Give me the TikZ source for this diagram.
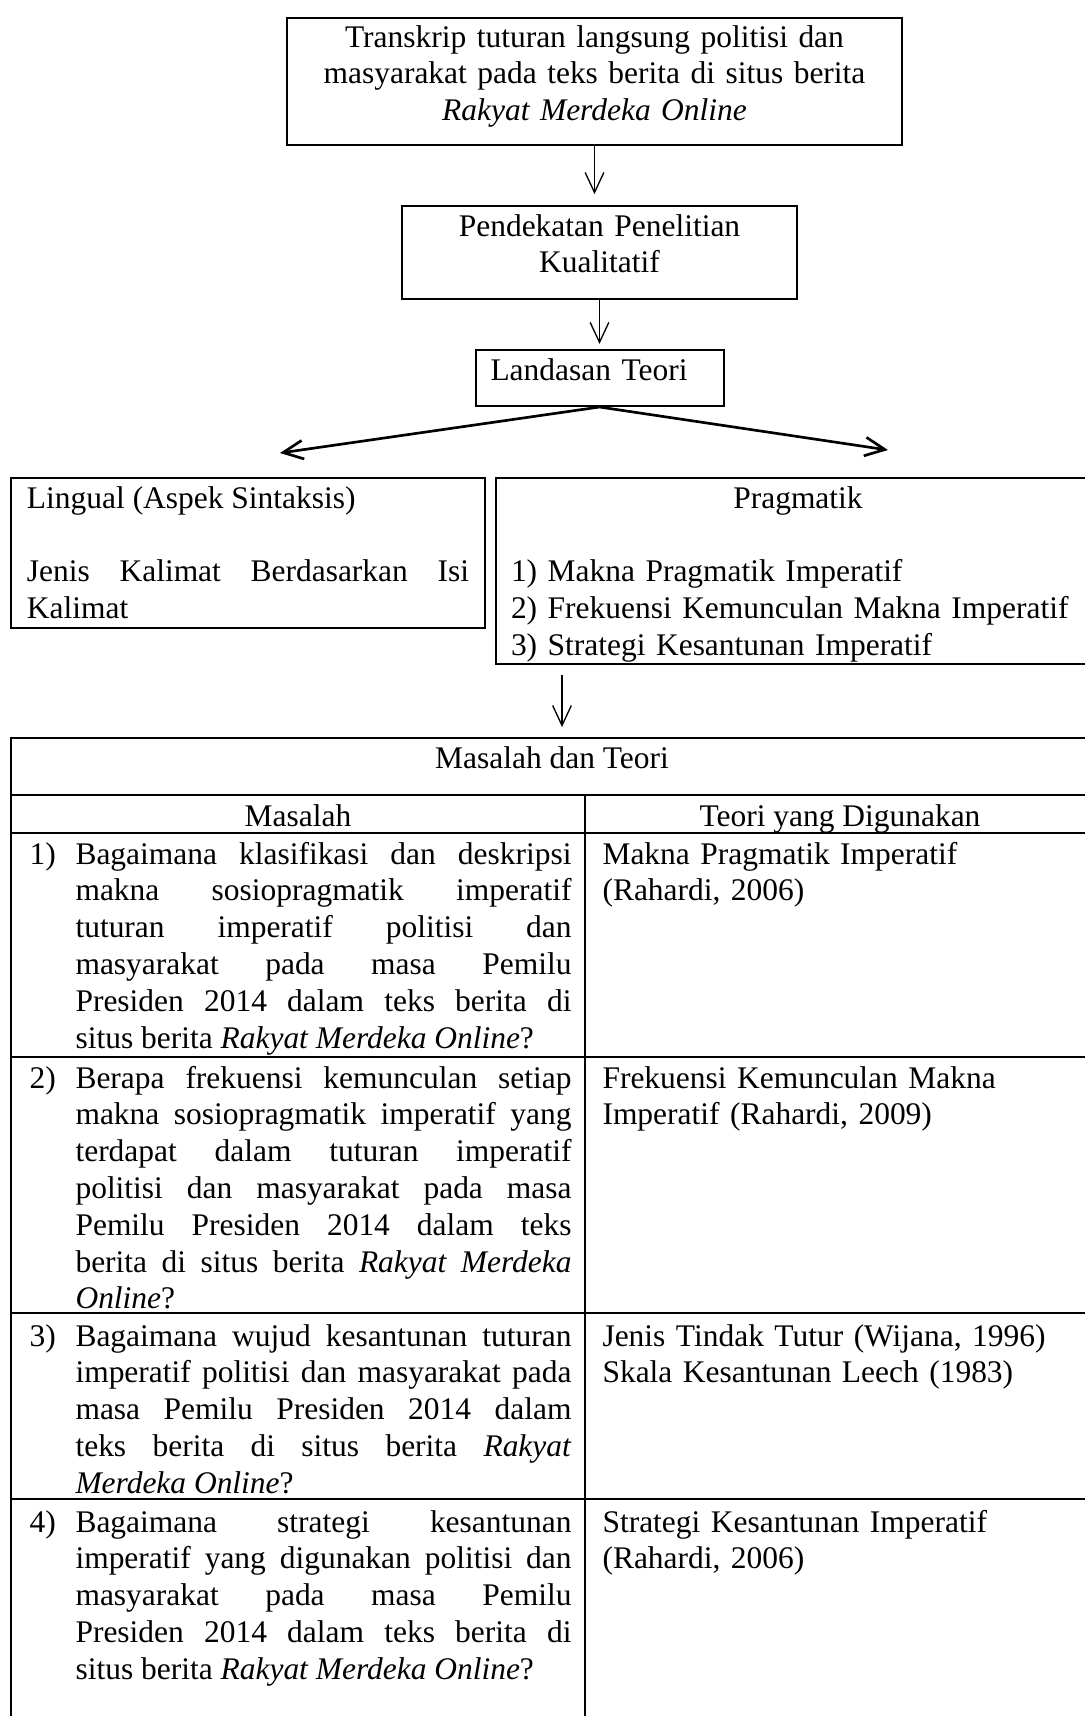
\documentclass[tikz,border=0pt]{standalone}
\usepackage{fontspec}
\setmainfont{Liberation Serif}
\usetikzlibrary{arrows.meta, positioning}
\setlength{\parindent}{0pt}
\hyphenpenalty=10000
\exhyphenpenalty=10000
\tolerance=10000

\begin{document}
\begin{tikzpicture}[
        x=0.375pt, y=-0.375pt,
        every node/.style={font=\fontsize{11.8}{13.8}\selectfont, inner sep=0pt},
        box/.style={draw, line width=0.75pt, text height=11.25pt},
        arr/.style={-{Straight Barb[length=7.5pt, width=7pt]}, line width=0.5pt},
        garis/.style={line width=0.75pt},
        soal/.style={anchor=base west, text width=186pt, align=justify},
        teks/.style={anchor=base west, text width=180pt, align=left}
        ]
        \useasboundingbox (0,0) rectangle (1085,1716);
        \clip (0,0) rectangle (1085,1716);
        \node[box, anchor=north west, text width=230.625pt, text height=10.875pt, text depth=36.75pt, align=center] (trans) at (286,17) {Transkrip tuturan langsung politisi dan\\masyarakat pada teks berita di situs berita\\\textit{Rakyat Merdeka Online}};
        \node[box, below=22.125pt of trans, xshift=1.875pt, text width=148.125pt, text depth=23.625pt, align=center] (kual) {Pendekatan Penelitian\\Kualitatif};
        \node[box, below=18.375pt of kual, inner xsep=5.625pt, text width=81.75pt, text depth=9.75pt, align=left] (teori) {Landasan Teori};
        \node[box, anchor=north west, inner xsep=6pt, text width=165.75pt, text depth=45pt, align=justify] (lingual) at (10,477) {Lingual (Aspek Sintaksis)\par\mbox{}\par Jenis Kalimat Berdasarkan Isi\linebreak Kalimat};
        \node[box, anchor=north west, inner xsep=5.625pt, text width=215.25pt, text depth=58.5pt, align=left] (prag) at (495,477) {\makebox[\linewidth]{Pragmatik}\\[13.8pt]1) Makna Pragmatik Imperatif\\2) Frekuensi Kemunculan Makna Imperatif\\3) Strategi Kesantunan Imperatif};
        \coordinate (kiri) at (280,453);
        \coordinate (kanan) at (888,450);
        \coordinate (tabel) at (562,738);
        \draw[arr, shorten >=4.1pt] (trans.south) -- (trans.south |- kual.north);
        \draw[arr, shorten >=1.9pt] (kual.south) -- (kual.south |- teori.north);
        \draw[arr, line width=1pt] (teori.south) -- (kiri);
        \draw[arr, line width=1pt] (teori.south) -- (kanan);
        \draw[arr, shorten <=3.75pt, shorten >=4.1pt] (prag.south -| tabel) -- (tabel);
        \draw[garis] (11,738) rectangle (1095,1730);
        \foreach \y in {795,833,1057,1313,1499}
            \draw[garis] (11,\y) -- (1095,\y);
        \draw[garis] (585,795) -- (585,1730);
        \node[anchor=base] (judul) at (552,768) {Masalah dan Teori};
        \node[anchor=base] (kolom1) at (298,826) {Masalah};
        \node[anchor=base] (kolom2) at (840,826) {Teori yang Digunakan};
        \node[anchor=base west] (no1) at (29,864) {1)};
        \node[soal] (soal1) at (75,864) {Bagaimana klasifikasi dan deskripsi\linebreak makna sosiopragmatik imperatif\linebreak tuturan imperatif politisi dan\linebreak masyarakat pada masa Pemilu\linebreak Presiden 2014 dalam teks berita di\linebreak situs berita \textit{Rakyat Merdeka Online}?};
        \node[teks] (teori1) at (602,864) {Makna Pragmatik Imperatif\\(Rahardi, 2006)};
        \node[anchor=base west] (no2) at (29,1088) {2)};
        \node[soal] (soal2) at (75,1088) {Berapa frekuensi kemunculan setiap\linebreak makna sosiopragmatik imperatif yang\linebreak terdapat dalam tuturan imperatif\linebreak politisi dan masyarakat pada masa\linebreak Pemilu Presiden 2014 dalam teks\linebreak berita di situs berita \textit{Rakyat Merdeka}\linebreak \textit{Online}?};
        \node[teks] (teori2) at (602,1088) {Frekuensi Kemunculan Makna\\Imperatif (Rahardi, 2009)};
        \node[anchor=base west] (no3) at (29,1346) {3)};
        \node[soal] (soal3) at (75,1346) {Bagaimana wujud kesantunan tuturan\linebreak imperatif politisi dan masyarakat pada\linebreak masa Pemilu Presiden 2014 dalam\linebreak teks berita di situs berita \textit{Rakyat}\linebreak \textit{Merdeka Online}?};
        \node[teks] (teori3) at (602,1346) {Jenis Tindak Tutur (Wijana, 1996)\\Skala Kesantunan Leech (1983)};
        \node[anchor=base west] (no4) at (29,1532) {4)};
        \node[soal] (soal4) at (75,1532) {Bagaimana strategi kesantunan\linebreak imperatif yang digunakan politisi dan\linebreak masyarakat pada masa Pemilu\linebreak Presiden 2014 dalam teks berita di\linebreak situs berita \textit{Rakyat Merdeka Online}?};
        \node[teks] (teori4) at (602,1532) {Strategi Kesantunan Imperatif\\(Rahardi, 2006)};
    \end{tikzpicture}
\end{document}
